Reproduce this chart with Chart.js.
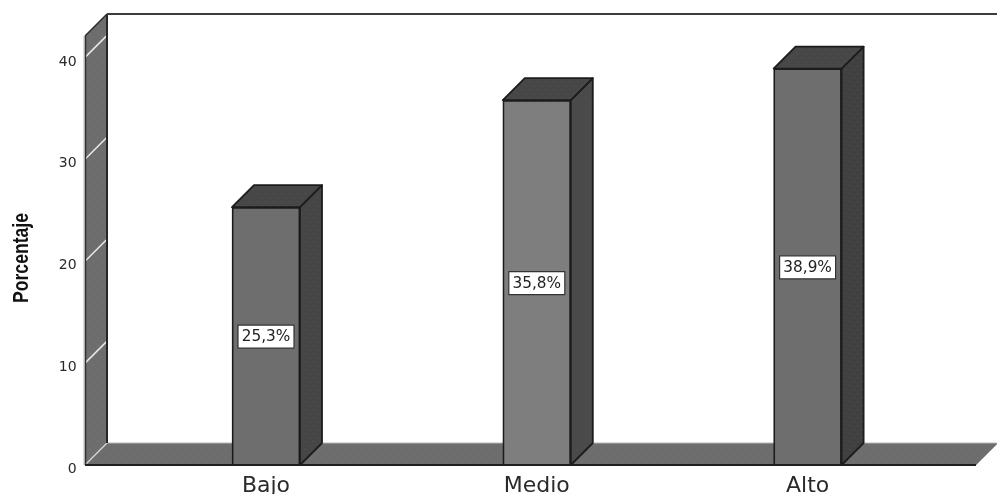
<!DOCTYPE html>
<html>
<head>
<meta charset="utf-8">
<style>
  html, body { margin: 0; padding: 0; background: #fff; }
  #wrap { position: relative; width: 997px; height: 494px; overflow: hidden; }
</style>
<script src="https://cdn.jsdelivr.net/npm/chart.js@4"></script>
</head>
<body>
<div id="wrap"><canvas id="chart" width="997" height="494"></canvas></div>
<script>
const categories = ['Bajo', 'Medio', 'Alto'];
const percentages = [25.3, 35.8, 38.9];
const valueTicks = [0, 10, 20, 30, 40];
const axisTitle = 'Porcentaje';
const barFronts = ['#6e6e6e', '#7e7e7e', '#6e6e6e'];
const barSides = ['#464646', '#4a4a4a', '#404040'];

// Oblique depth of the pseudo-3D box, in pixels
const DEPTH = 22;
const FLOOR_LEFT = 85;
const FLOOR_RIGHT = 976;

// Fine stipple laid over the shaded faces
function stipple(base, dot) {
  const tile = document.createElement('canvas');
  tile.width = 8;
  tile.height = 8;
  const c = tile.getContext('2d');
  c.fillStyle = base;
  c.fillRect(0, 0, 8, 8);
  c.fillStyle = dot;
  c.fillRect(1, 1, 1, 1);
  c.fillRect(5, 5, 1, 1);
  return c.createPattern(tile, 'repeat');
}

function poly(ctx, pts, fill, stroke, width) {
  ctx.beginPath();
  pts.forEach((p, i) => i ? ctx.lineTo(p[0], p[1]) : ctx.moveTo(p[0], p[1]));
  ctx.closePath();
  if (fill) { ctx.fillStyle = fill; ctx.fill(); }
  if (stroke) { ctx.strokeStyle = stroke; ctx.lineWidth = width || 1.5; ctx.lineJoin = 'round'; ctx.stroke(); }
}

function line(ctx, x1, y1, x2, y2, color, width) {
  ctx.beginPath();
  ctx.moveTo(x1, y1);
  ctx.lineTo(x2, y2);
  ctx.strokeStyle = color;
  ctx.lineWidth = width;
  ctx.stroke();
}

// Side wall, floor and back edges sit behind the bars
const boxPlugin = {
  id: 'box',
  beforeDatasetsDraw(chart) {
    const { ctx, scales: { y } } = chart;
    const y0 = y.getPixelForValue(0);
    const yTop = y.getPixelForValue(y.max);
    const d = DEPTH, L = FLOOR_LEFT, R = FLOOR_RIGHT;
    const wallFill = stipple('#6d6d6d', '#7b7b72');
    ctx.save();
    poly(ctx, [[L, y0], [R, y0], [R + d, y0 - d], [L + d, y0 - d]], wallFill);
    poly(ctx, [[L, y0], [L, yTop], [L + d, yTop - d], [L + d, y0 - d]], wallFill);
    line(ctx, L, y0, L + d, y0 - d, '#d8d8d8', 1.2);
    valueTicks.slice(1).forEach(v => {
      const p = y.getPixelForValue(v);
      line(ctx, L, p, L + d, p - d, '#ececec', 1.5);
    });
    line(ctx, L + d, y0 - d, R + d, y0 - d, '#b9b4b6', 1);
    line(ctx, L, yTop, L + d, yTop - d, '#2a2a2a', 1.5);
    line(ctx, L + d, yTop - d, L + d, y0 - d, '#262626', 2);
    line(ctx, L + d, yTop - d, 997, yTop - d, '#3c3c3c', 2);
    line(ctx, L - 1, yTop, L - 1, y0, '#b5b5b5', 1);
    line(ctx, L + 0.5, yTop, L + 0.5, y0, '#303030', 1.5);
    line(ctx, R, y0, R + d, y0 - d, '#9a9a9a', 1);
    ctx.restore();
  },
  afterDatasetsDraw(chart) {
    const { ctx, scales: { y } } = chart;
    const y0 = y.getPixelForValue(0);
    const d = DEPTH;
    ctx.save();
    chart.getDatasetMeta(0).data.forEach((bar, i) => {
      const l = bar.x - bar.width / 2, r = bar.x + bar.width / 2, t = bar.y;
      poly(ctx, [[r, y0], [r, t], [r + d, t - d], [r + d, y0 - d]], stipple(barSides[i], '#545454'), '#1c1c1c', 1.8);
      poly(ctx, [[l, t], [l + d, t - d], [r + d, t - d], [r, t]], stipple('#474747', '#555555'), '#1c1c1c', 1.8);

      // Value tag centred on the front face
      const label = percentages[i].toFixed(1).replace('.', ',') + '%';
      const cy = (t + y0) / 2 + 0.5;
      ctx.fillStyle = '#ffffff';
      ctx.fillRect(bar.x - 28, cy - 11.5, 56, 23);
      ctx.strokeStyle = '#333333';
      ctx.lineWidth = 1.2;
      ctx.strokeRect(bar.x - 28, cy - 11.5, 56, 23);
      ctx.fillStyle = '#222222';
      ctx.font = '15.3px "DejaVu Sans"';
      ctx.textAlign = 'center';
      ctx.textBaseline = 'middle';
      ctx.fillText(label, bar.x, cy + 0.5);
    });
    // Floor front edge runs over the base of each bar
    line(ctx, FLOOR_LEFT, y0, FLOOR_RIGHT, y0, '#1e1e1e', 2);

    // Rotated, condensed axis title
    ctx.translate(22, 258);
    ctx.rotate(-Math.PI / 2);
    ctx.scale(0.8, 1);
    ctx.fillStyle = '#111111';
    ctx.font = 'bold 22px "Liberation Sans"';
    ctx.textAlign = 'center';
    ctx.textBaseline = 'middle';
    ctx.fillText(axisTitle, 0, 0);
    ctx.restore();
  }
};

new Chart(document.getElementById('chart'), {
  type: 'bar',
  data: {
    labels: categories,
    datasets: [{
      data: percentages,
      backgroundColor: barFronts,
      borderColor: '#1c1c1c',
      borderWidth: 1.8,
      barThickness: 68
    }]
  },
  options: {
    responsive: false,
    animation: false,
    events: [],
    layout: { padding: { left: 0, right: 54, top: 36, bottom: 0 } },
    plugins: { legend: { display: false }, tooltip: { enabled: false } },
    scales: {
      x: {
        afterFit(scale) { scale.height = 29; },
        grid: { display: false, drawTicks: false },
        border: { display: false },
        ticks: {
          color: '#2a2a2a',
          padding: 8,
          maxRotation: 0,
          font: { family: '"DejaVu Sans"', size: 22 }
        }
      },
      y: {
        min: 0,
        max: 42.1,
        // The wide label gutter must not push the plot area down
        afterFit(scale) {
          scale.width = 130.6;
          scale.paddingTop = 0;
          scale.paddingBottom = 0;
        },
        grid: { display: false, drawTicks: false },
        border: { display: false },
        afterBuildTicks(scale) { scale.ticks = valueTicks.map(value => ({ value })); },
        ticks: {
          color: '#2a2a2a',
          padding: 54,
          // An empty first line drops each number just below its tick
          callback: value => ['', String(value)],
          font: { family: '"DejaVu Sans"', size: 14, lineHeight: '9px' }
        }
      }
    }
  },
  plugins: [boxPlugin]
});
</script>
</body>
</html>
